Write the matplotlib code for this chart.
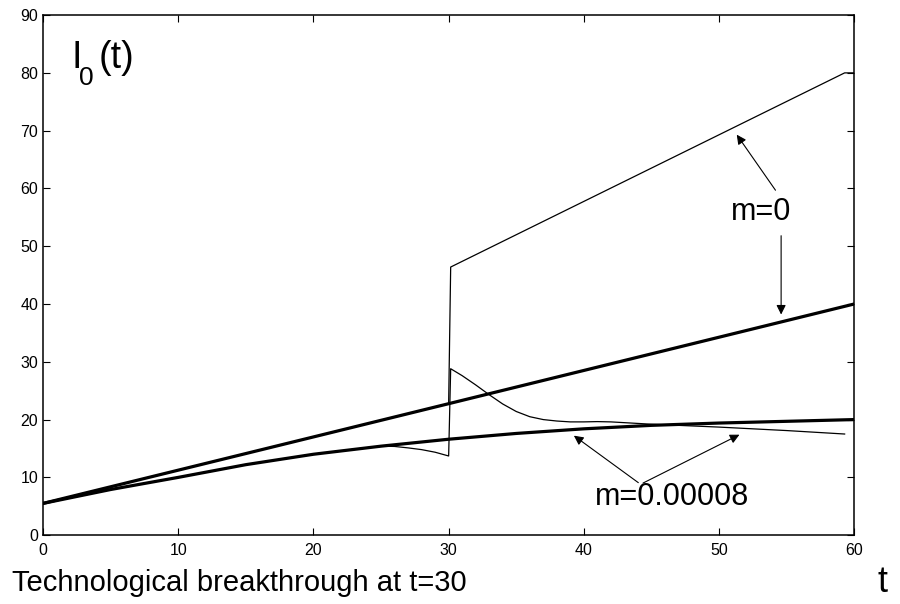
import matplotlib
matplotlib.use("Agg")
import matplotlib.pyplot as plt

plt.rcParams["font.family"] = ["Liberation Sans", "DejaVu Sans"]

# m=0, no breakthrough (thick) and with breakthrough at t=30 (thin)
t_m0 = [0, 60]
i_m0 = [5.5, 40.0]
t_m0_jump = [0, 30.0, 30.15, 59.3, 60]
i_m0_jump = [5.5, 22.75, 46.4, 80.0, 80.0]

# m=0.00008, no breakthrough (thick) and with breakthrough (thin)
t_m8 = [0, 5, 10, 15, 20, 25, 30, 35, 40, 45, 50, 55, 60]
i_m8 = [5.5, 7.9, 10.0, 12.2, 14.0, 15.4, 16.6, 17.6, 18.4, 19.0, 19.4, 19.7, 20.0]
t_m8_jump = [0, 5, 10, 15, 20, 24, 25, 26, 27, 28, 29, 30, 30.15, 31, 32, 33, 34,
             35, 36, 37, 38, 39, 40, 41, 42, 45, 50, 55, 59.3]
i_m8_jump = [5.5, 7.9, 10.0, 12.2, 14.0, 15.15, 15.4, 15.35, 15.1, 14.8, 14.35, 13.7,
             28.8, 27.6, 26.0, 24.3, 22.7, 21.4, 20.5, 20.0, 19.75, 19.6, 19.6, 19.65,
             19.6, 19.2, 18.7, 18.1, 17.5]

xticks = [0, 10, 20, 30, 40, 50, 60]
yticks = [0, 10, 20, 30, 40, 50, 60, 70, 80, 90]

fig = plt.figure(figsize=(9, 6.04), dpi=100)
ax = fig.add_axes([0.048, 0.114, 0.901, 0.861])

ax.plot(t_m0, i_m0, color="black", lw=2.3)
ax.plot(t_m8, i_m8, color="black", lw=2.3)
ax.plot(t_m0_jump, i_m0_jump, color="black", lw=0.9)
ax.plot(t_m8_jump, i_m8_jump, color="black", lw=0.9)

ax.set_xlim(0, 60)
ax.set_ylim(0, 90)
ax.set_xticks(xticks)
ax.set_yticks(yticks)
ax.tick_params(direction="in", length=5, width=0.8, top=True, right=True,
               labelsize=11.5)
ax.tick_params(axis="x", pad=6)
for s in ax.spines.values():
    s.set_linewidth(1.1)

arrow = dict(arrowstyle="-|>", color="black", lw=0.8, mutation_scale=14)
ax.text(53.1, 56.0, "m=0", fontsize=22, ha="center", va="center")
ax.annotate("", xy=(51.2, 69.7), xytext=(54.3, 59.3), arrowprops=arrow)
ax.annotate("", xy=(54.6, 37.7), xytext=(54.6, 52.3), arrowprops=arrow)

ax.text(46.5, 6.6, "m=0.00008", fontsize=22, ha="center", va="center")
ax.annotate("", xy=(39.1, 17.5), xytext=(44.2, 8.8), arrowprops=arrow)
ax.annotate("", xy=(51.7, 17.6), xytext=(44.2, 8.8), arrowprops=arrow)

# I_0(t) label, pieces placed relative to the "I"
ax.annotate("I", xy=(2.1, 80.8), fontsize=27, ha="left", va="baseline")
ax.annotate("0", xy=(2.1, 80.8), xytext=(5.5, -12), textcoords="offset points",
            fontsize=19, ha="left", va="baseline")
ax.annotate("(t)", xy=(2.1, 80.8), xytext=(19.5, 0), textcoords="offset points",
            fontsize=27, ha="left", va="baseline")

fig.text(0.013, 0.022, "Technological breakthrough at t=30", fontsize=21,
         ha="left", va="baseline")
fig.text(0.981, 0.02, "t", fontsize=26, ha="center", va="baseline")

fig.savefig("out.png", dpi=100)
